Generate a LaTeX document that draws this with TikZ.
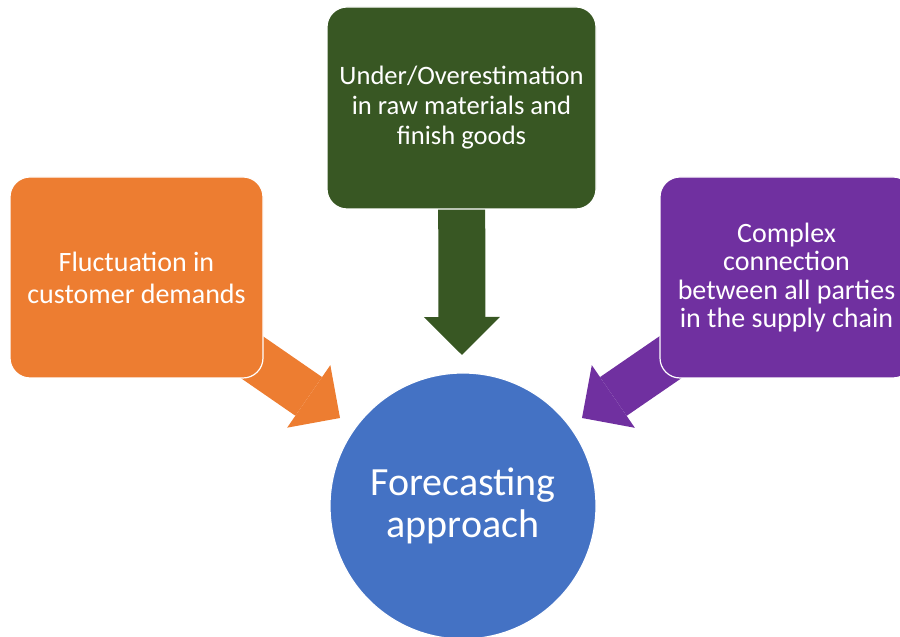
\documentclass[tikz,border=0pt]{standalone}
\usepackage{fontspec}
\setmainfont{Carlito}
\usepackage{tikz}
\usetikzlibrary{arrows.meta,backgrounds}

\definecolor{boxorange}{HTML}{ED7D31}
\definecolor{boxgreen}{HTML}{385723}
\definecolor{boxpurple}{HTML}{7030A0}
\definecolor{coreblue}{HTML}{4472C4}

\begin{document}
\begin{tikzpicture}[x=1pt, y=1pt,
		cause/.style={rectangle, rounded corners=20pt, draw=white, line width=1.2pt, text=white, align=center, minimum width=253pt, minimum height=201pt},
		flow/.style={line width=47pt, -{Triangle[width=76pt, length=38pt, line width=0pt]}}]
		\useasboundingbox (0,0) rectangle (900,637);
		\clip (0,0) rectangle (900,637);
		\node[cause, fill=boxorange, font=\fontsize{28}{32}\selectfont] (fluct) at (136.5,359.5) {Fluctuation in\\customer demands};
		\node[cause, fill=boxgreen, minimum width=269pt, minimum height=202pt, font=\fontsize{26.6}{30}\selectfont] (estim) at (461.5,529) {Under/Overestimation\\in raw materials and\\finish goods};
		\node[cause, fill=boxpurple, font=\fontsize{28}{28.5}\selectfont] (chain) at (786.5,359.5) {Complex\\connection\\between all parties\\in the supply chain};
		\node[circle, fill=coreblue, draw=white, line width=1.2pt, minimum size=266pt,
			label={[text=white, align=center, font=\fontsize{40}{42}\selectfont]center:Forecasting\\approach}] (core) at (463,131) {};
		\coordinate (tipfluct) at (340,219);
		\coordinate (tipestim) at (462,282);
		\coordinate (tipchain) at (582,219);
		\begin{scope}[on background layer]
			\draw[flow, boxorange] (fluct.center) -- (tipfluct);
			\draw[flow, boxgreen] (estim.center) -- (tipestim);
			\draw[flow, boxpurple] (chain.center) -- (tipchain);
		\end{scope}
\end{tikzpicture}
\end{document}
